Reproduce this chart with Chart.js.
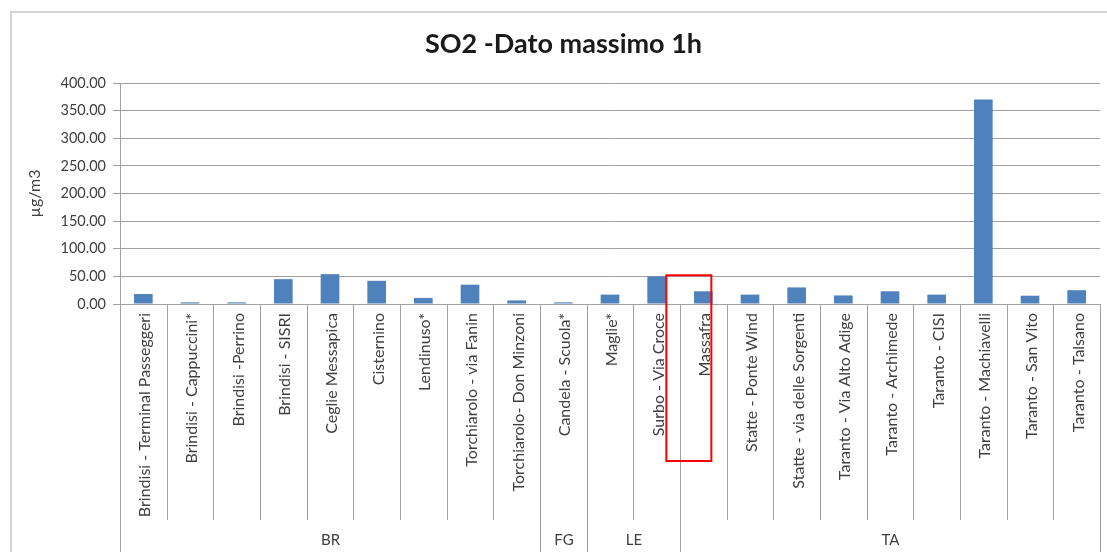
<!DOCTYPE html>
<html>
<head>
<meta charset="utf-8">
<script src="https://cdn.jsdelivr.net/npm/chart.js@4.4.1/dist/chart.umd.min.js"></script>
<style>
  html, body { margin: 0; padding: 0; background: #fff; }
  #wrap { width: 1107px; height: 552px; position: relative; }
</style>
</head>
<body>
<div id="wrap"><canvas id="so2"></canvas></div>
<script>
// Stazioni, in ordine di provincia
const stations = [
    'Brindisi - Terminal Passeggeri', 'Brindisi - Cappuccini*', 'Brindisi -Perrino',
    'Brindisi - SISRI', 'Ceglie Messapica', 'Cisternino', 'Lendinuso*',
    'Torchiarolo - via Fanin', 'Torchiarolo- Don Minzoni', 'Candela - Scuola*',
    'Maglie*', 'Surbo - Via Croce', 'Massafra', 'Statte - Ponte Wind',
    'Statte - via delle Sorgenti', 'Taranto - Via Alto Adige', 'Taranto - Archimede',
    'Taranto - CISI', 'Taranto - Machiavelli', 'Taranto - San Vito', 'Taranto - Talsano'
];
const provinces = ['BR', 'FG', 'LE', 'TA'];
const provinceSizes = [9, 1, 2, 9];
// SO2, massimo orario (µg/m3)
const so2Max = [18, 3, 3, 45, 54, 42, 11, 35, 6.5, 3, 17, 50, 23, 17, 30, 15.5, 23, 17, 370, 15, 25];
const yTicks = [0, 50, 100, 150, 200, 250, 300, 350, 400];
const chartTitle = 'SO2 -Dato massimo 1h';
const highlightStation = 'Massafra';

const FONT = 'Lato';
const gridColor = '#a0a0a0';
const barColor = '#4f81bd';

Chart.defaults.font.family = FONT;
Chart.defaults.color = '#404040';

// cornice, titolo, asse categorie a due livelli (stazione / provincia) + riquadro evidenziato
const stationAxis = {
    id: 'stationAxis',
    beforeDraw(chart) {
        const { ctx } = chart;
        ctx.save();
        ctx.strokeStyle = '#d4d4d4';
        ctx.lineWidth = 2;
        ctx.strokeRect(11, 12, chart.width, chart.height);
        ctx.fillStyle = '#1a1a1a';
        ctx.font = `bold 27px ${FONT}`;
        ctx.textAlign = 'center';
        ctx.textBaseline = 'middle';
        ctx.fillText(chartTitle, chart.width / 2 + 10, 44);
        ctx.restore();
    },
    afterDraw(chart) {
        const { ctx, chartArea, scales: { x, y } } = chart;
        const step = x.getPixelForValue(1) - x.getPixelForValue(0);
        const edge = i => Math.round(x.getPixelForValue(i) - step / 2) + 0.5;
        const top = chartArea.bottom;

        const groupEdges = [0];
        provinceSizes.forEach(n => groupEdges.push(groupEdges[groupEdges.length - 1] + n));

        ctx.save();
        ctx.strokeStyle = gridColor;
        ctx.lineWidth = 1;
        for (let i = 0; i <= stations.length; i++) {
            const bottom = groupEdges.includes(i) ? chart.height : top + 216;
            ctx.beginPath();
            ctx.moveTo(edge(i), top);
            ctx.lineTo(edge(i), bottom);
            ctx.stroke();
        }

        // nomi stazione, ruotati
        ctx.fillStyle = '#404040';
        ctx.font = `16px ${FONT}`;
        ctx.textAlign = 'right';
        ctx.textBaseline = 'middle';
        stations.forEach((name, i) => {
            ctx.save();
            ctx.translate(x.getPixelForValue(i) + 2, top + 9);
            ctx.rotate(-Math.PI / 2);
            ctx.fillText(name, 0, 0);
            ctx.restore();
        });

        // province
        ctx.font = `15px ${FONT}`;
        ctx.textAlign = 'center';
        provinces.forEach((p, g) => {
            const cx = (edge(groupEdges[g]) + edge(groupEdges[g + 1])) / 2;
            ctx.fillText(p, cx, top + 236);
        });

        // riquadro rosso sulla stazione evidenziata
        const hi = stations.indexOf(highlightStation);
        const cx = x.getPixelForValue(hi);
        ctx.strokeStyle = '#ff0000';
        ctx.lineWidth = 2;
        ctx.strokeRect(cx - 37, y.getPixelForValue(52), 45, top + 157 - y.getPixelForValue(52));
        ctx.restore();
    }
};

new Chart(document.getElementById('so2'), {
    type: 'bar',
    data: {
        labels: stations,
        datasets: [{
            label: 'SO2',
            data: so2Max,
            backgroundColor: barColor,
            borderWidth: 0,
            barPercentage: 0.4,
            categoryPercentage: 1
        }]
    },
    options: {
        responsive: true,
        maintainAspectRatio: false,
        animation: false,
        layout: { padding: { left: 10, right: 7, top: 83, bottom: 248 } },
        plugins: {
            legend: { display: false },
            tooltip: { enabled: false },
            title: { display: false }
        },
        scales: {
            x: { display: false },
            y: {
                min: 0,
                max: 400,
                afterBuildTicks: scale => { scale.ticks = yTicks.map(v => ({ value: v })); },
                afterFit: scale => { scale.width = 110; },
                ticks: {
                    font: { size: 14.5 },
                    padding: 7,
                    callback: v => v.toFixed(2)
                },
                grid: { color: gridColor, tickLength: 7 },
                border: { color: gridColor },
                title: {
                    display: true,
                    text: 'µg/m3',
                    font: { size: 16 },
                    padding: { top: 15, bottom: 0 }
                }
            }
        }
    },
    plugins: [stationAxis]
});
</script>
</body>
</html>
